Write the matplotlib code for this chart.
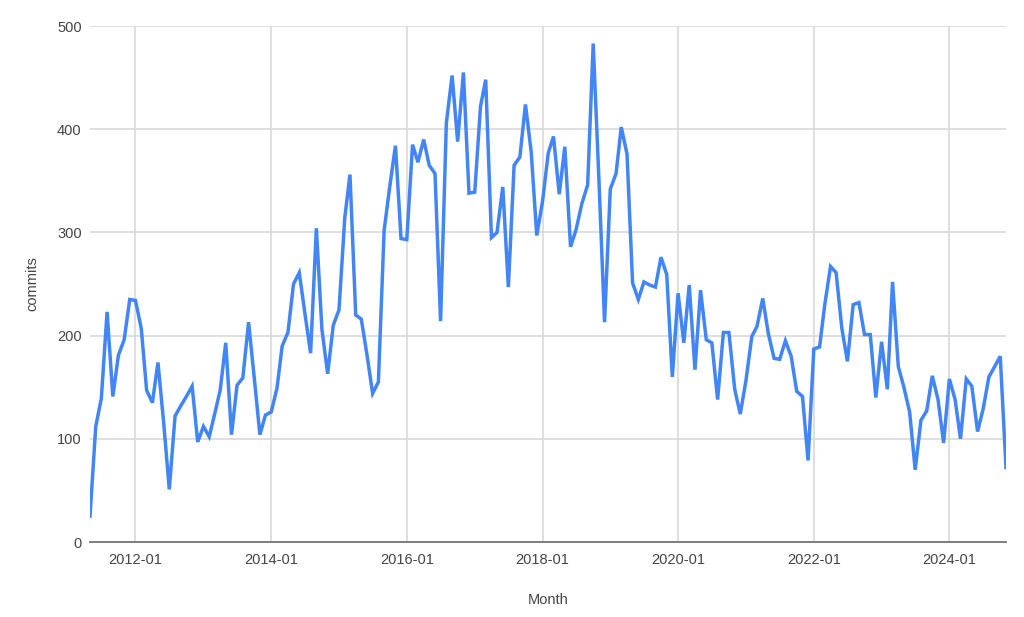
import pandas as pd
import matplotlib
matplotlib.use("Agg")
import matplotlib.pyplot as plt
import matplotlib.dates as mdates

# monthly commit counts, 2011-05 .. 2024-11
c2011 = [25, 112, 139, 223, 141, 181, 196, 235]  # May-Dec
c2012 = [234, 207, 147, 135, 174, 115, 51, 122, 132, 141, 151, 97]
c2013 = [112, 102, 123, 147, 193, 104, 152, 159, 213, 160, 104, 123]
c2014 = [126, 149, 190, 203, 250, 261, 222, 183, 304, 206, 163, 210]
c2015 = [225, 314, 356, 220, 216, 181, 144, 155, 302, 344, 384, 294]
c2016 = [293, 385, 368, 390, 365, 357, 214, 406, 452, 388, 455, 338]
c2017 = [339, 422, 448, 295, 300, 344, 247, 365, 373, 424, 378, 297]
c2018 = [330, 377, 393, 337, 383, 286, 303, 328, 346, 483, 350, 213]
c2019 = [342, 357, 402, 376, 251, 235, 252, 249, 247, 276, 259, 160]
c2020 = [241, 193, 249, 167, 244, 196, 193, 138, 203, 203, 148, 124]
c2021 = [157, 199, 209, 236, 202, 178, 177, 195, 180, 146, 141, 79]
c2022 = [187, 189, 230, 267, 261, 207, 175, 230, 232, 201, 201, 140]
c2023 = [194, 148, 252, 170, 150, 126, 70, 118, 127, 161, 138, 96]
c2024 = [158, 138, 100, 158, 151, 107, 129, 160, 170, 180, 72]  # Jan-Nov

commits = (c2011 + c2012 + c2013 + c2014 + c2015 + c2016 + c2017
           + c2018 + c2019 + c2020 + c2021 + c2022 + c2023 + c2024)
months = pd.date_range("2011-05-01", periods=len(commits), freq="MS")
tick_dates = pd.date_range("2012-01-01", "2024-01-01", freq="24MS")

text_col = "#444444"
grid_col = "#d9d9d9"

fig = plt.figure(figsize=(10.24, 6.17), dpi=100)
ax = fig.add_axes([90 / 1024, 1 - 542 / 617, (1006 - 90) / 1024, (542 - 26) / 617])

ax.plot(months, commits, color="#4285F4", lw=2.5, solid_joinstyle="miter", zorder=3)

ax.set_xlim(months[0], months[-1])
ax.set_ylim(0, 500)
ax.set_yticks([0, 100, 200, 300, 400, 500])
ax.set_xticks(tick_dates)
ax.xaxis.set_major_formatter(mdates.DateFormatter("%Y-%m"))

ax.grid(True, color=grid_col, lw=1.2)
ax.set_axisbelow(True)
for s in ["top", "right", "left"]:
    ax.spines[s].set_visible(False)
ax.spines["bottom"].set_color("#757575")
ax.spines["bottom"].set_linewidth(1.3)
ax.spines["bottom"].set_zorder(4)
ax.tick_params(length=0, labelsize=10.5, labelcolor=text_col, pad=8)
ax.tick_params(axis="y", pad=6)

ax.set_xlabel("Month", fontsize=10.5, color=text_col, labelpad=19)
ax.set_ylabel("commits", fontsize=10.5, color=text_col, labelpad=13)

for lbl in ax.get_xticklabels() + ax.get_yticklabels():
    lbl.set_fontfamily("Liberation Sans")
ax.xaxis.label.set_fontfamily("Liberation Sans")
ax.yaxis.label.set_fontfamily("Liberation Sans")

fig.savefig("out.png", dpi=100, facecolor="white")
